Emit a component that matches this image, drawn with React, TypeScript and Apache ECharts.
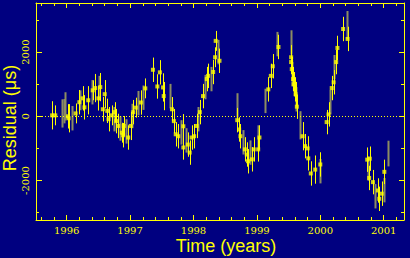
import React, { useEffect, useRef } from "react";
import * as echarts from "echarts";

// Bright (yellow) timing residuals: epoch (yr), residual (us), error (us)
const yellowYears = [1995.77, 1995.82, 1996.02, 1996.03, 1996.14, 1996.2, 1996.25, 1996.28, 1996.34, 1996.41, 1996.45, 1996.5, 1996.53, 1996.57, 1996.6, 1996.64, 1996.66, 1996.71, 1996.76, 1996.78, 1996.81, 1996.87, 1996.89, 1996.9, 1996.97, 1997.01, 1997.05, 1997.09, 1997.17, 1997.24, 1997.36, 1997.43, 1997.47, 1997.52, 1997.53, 1997.66, 1997.69, 1997.72, 1997.76, 1997.84, 1997.84, 1997.91, 1997.94, 1997.97, 1998.01, 1998.05, 1998.1, 1998.15, 1998.21, 1998.23, 1998.31, 1998.34, 1998.35, 1998.41, 1998.69, 1998.72, 1998.74, 1998.81, 1998.84, 1998.86, 1998.92, 1998.95, 1999.02, 1999.04, 1999.18, 1999.22, 1999.25, 1999.34, 1999.54, 1999.54, 1999.55, 1999.57, 1999.58, 1999.6, 1999.61, 1999.63, 1999.72, 1999.76, 1999.8, 1999.81, 1999.85, 1999.92, 2000.0, 2000.1, 2000.13, 2000.18, 2000.21, 2000.25, 2000.27, 2000.36, 2000.43, 2000.74, 2000.78, 2000.77, 2000.83, 2000.91, 2000.93, 2000.97, 2001.01];
const yellowRes = [30, 30, 0, -60, 90, 440, 560, 280, 500, 810, 880, 560, 910, 220, 690, 170, -90, 30, 130, -150, -300, -510, -590, -300, -660, -300, 130, 270, 430, 870, 1450, 930, 1370, 900, 630, 220, -150, -560, -620, -310, -970, -880, -1130, -660, -620, -300, 130, 630, 1160, 1260, 1380, 1840, 2350, 1730, -120, -410, -620, -1030, -1190, -1400, -1340, -1030, -1030, -660, 840, 1260, 1560, 2160, 1840, 1690, 1470, 1160, 1000, 840, 690, 300, -620, -930, -1000, -1310, -1780, -1660, -1500, -180, 60, 880, 1060, 1690, 2130, 2720, 2410, -1350, -1320, -1920, -2050, -2310, -2570, -2410, -1730];
const yellowErr = [440, 310, 380, 440, 310, 380, 380, 380, 440, 310, 440, 380, 440, 380, 440, 380, 380, 310, 310, 380, 380, 310, 380, 310, 380, 440, 380, 310, 380, 310, 380, 380, 380, 440, 440, 380, 380, 380, 380, 380, 380, 380, 380, 380, 380, 380, 380, 380, 380, 380, 380, 310, 310, 380, 380, 380, 380, 380, 380, 380, 380, 380, 380, 380, 380, 380, 380, 380, 380, 380, 380, 380, 380, 380, 380, 380, 440, 380, 380, 380, 380, 440, 380, 380, 380, 380, 380, 380, 380, 380, 380, 380, 380, 380, 380, 380, 380, 380, 380];

// Dim (grey) residuals
const greyYears = [1995.93, 1995.96, 1995.98, 1996.08, 1996.21, 1996.4, 1996.51, 1996.74, 1996.84, 1996.94, 1997.03, 1997.13, 1997.21, 1997.63, 1997.8, 1997.88, 1998.07, 1998.18, 1998.28, 1998.39, 1998.69, 1998.78, 1998.89, 1999.01, 1999.13, 1999.31, 1999.53, 1999.56, 1999.62, 1999.68, 2000.0, 2000.15, 2000.22, 2000.42, 2000.76, 2000.86, 2001.0, 2001.06];
const greyRes = [90, 160, 310, -60, 500, 750, 880, -90, -380, -470, 10, 410, 580, 630, -500, -750, -90, 910, 1160, 2000, 340, -810, -1130, -660, 480, 2250, 2300, 1310, 530, -280, -1710, 440, 1530, 2840, -1630, -2490, -2300, -1160];
const greyErr = [440, 380, 440, 380, 310, 380, 380, 380, 380, 380, 380, 380, 380, 380, 380, 380, 380, 380, 380, 380, 380, 380, 380, 380, 380, 380, 380, 380, 380, 440, 380, 380, 380, 440, 380, 380, 380, 400];

const xMajor = [1996, 1997, 1998, 1999, 2000, 2001];
const yMajor = [-2000, 0, 2000];
const yMinor = [-3000, -1000, 1000, 3000];

const X_MIN = 1995.516;
const X_MAX = 2001.32;
const Y_MIN = -3230;
const Y_MAX = 3530;

const YELLOW = "#ffff00";
const GREY = "#8c8c62";
const BG = "#000080";
const LABEL_FONT = "DejaVu Serif";

const xMinor: number[] = [];
for (let k = 1; k * 0.2 + 1995.4 < X_MAX; k++) {
  const v = Math.round((1995.4 + k * 0.2) * 10) / 10;
  if (v > X_MIN && Math.abs(v - Math.round(v)) > 0.01) xMinor.push(v);
}

function errRender(color: string, width: number) {
  return (params: any, api: any) => {
    const x = api.value(0);
    const y = api.value(1);
    const e = api.value(2);
    const a = api.coord([x, y + e]);
    const b = api.coord([x, y - e]);
    return {
      type: "line",
      shape: { x1: Math.round(a[0]) + 0.5, y1: a[1], x2: Math.round(b[0]) + 0.5, y2: b[1] },
      style: { stroke: color, lineWidth: width },
    };
  };
}

function xAxisDef(pos: "top" | "bottom", ticks: number[], len: number, labels: boolean, line: boolean) {
  return {
    type: "value",
    position: pos,
    min: X_MIN,
    max: X_MAX,
    gridIndex: 0,
    axisLine: { show: line, onZero: false, lineStyle: { color: YELLOW, width: 1 } },
    axisTick: { show: true, inside: true, length: len, customValues: ticks, lineStyle: { color: YELLOW, width: 1 } },
    axisLabel: labels
      ? { show: true, customValues: ticks, color: YELLOW, fontFamily: LABEL_FONT, fontSize: 10, margin: 5, formatter: (v: number) => String(v) }
      : { show: false },
    splitLine: { show: false },
  };
}

function yAxisDef(pos: "left" | "right", ticks: number[], len: number, labels: boolean, line: boolean) {
  return {
    type: "value",
    position: pos,
    min: Y_MIN,
    max: Y_MAX,
    gridIndex: 0,
    axisLine: { show: line, onZero: false, lineStyle: { color: YELLOW, width: 1 } },
    axisTick: { show: true, inside: true, length: len, customValues: ticks, lineStyle: { color: YELLOW, width: 1 } },
    axisLabel: labels
      ? { show: true, customValues: ticks, rotate: 90, color: YELLOW, fontFamily: LABEL_FONT, fontSize: 10, margin: 6, formatter: (v: number) => String(v) }
      : { show: false },
    splitLine: { show: false },
  };
}

export default function App() {
  const ref = useRef<HTMLDivElement>(null);
  useEffect(() => {
    document.body.style.margin = "0";
    const chart = echarts.init(ref.current!, null, { renderer: "svg" });
    const yellowData = yellowYears.map((t, i) => [t, yellowRes[i], yellowErr[i]]);
    const greyData = greyYears.map((t, i) => [t, greyRes[i], greyErr[i]]);
    chart.setOption({
      animation: false,
      backgroundColor: BG,
      grid: { left: 36, right: 6, top: 3, bottom: 38, containLabel: false },
      xAxis: [
        xAxisDef("bottom", xMajor, 5, true, true),
        xAxisDef("bottom", xMinor, 3, false, false),
        xAxisDef("top", xMajor, 5, false, true),
        xAxisDef("top", xMinor, 3, false, false),
      ],
      yAxis: [
        yAxisDef("left", yMajor, 6, true, true),
        yAxisDef("left", yMinor, 3, false, false),
        yAxisDef("right", yMajor, 5, false, true),
        yAxisDef("right", yMinor, 3, false, false),
      ],
      graphic: [
        {
          type: "text",
          x: 226,
          y: 246,
          style: { text: "Time (years)", fill: YELLOW, font: "18px 'Liberation Sans'", textAlign: "center", textVerticalAlign: "middle" },
        },
        {
          type: "text",
          x: 10,
          y: 118,
          rotation: Math.PI / 2,
          style: { text: "Residual (\u03bcs)", fill: YELLOW, font: "18px 'Liberation Sans'", textAlign: "center", textVerticalAlign: "middle" },
        },
      ],
      series: [
        {
          type: "custom",
          name: "grey errors",
          xAxisIndex: 0,
          yAxisIndex: 0,
          renderItem: errRender(GREY, 2),
          data: greyData,
          encode: { x: 0, y: 1 },
          silent: true,
          z: 2,
        },
        {
          type: "custom",
          name: "yellow errors",
          xAxisIndex: 0,
          yAxisIndex: 0,
          renderItem: errRender(YELLOW, 1),
          data: yellowData,
          encode: { x: 0, y: 1 },
          silent: true,
          z: 3,
        },
        {
          type: "scatter",
          name: "yellow points",
          xAxisIndex: 0,
          yAxisIndex: 0,
          data: yellowData.map((d) => [d[0], d[1]]),
          symbol: "rect",
          symbolSize: 4,
          itemStyle: { color: YELLOW },
          silent: true,
          z: 4,
          markLine: {
            silent: true,
            symbol: "none",
            label: { show: false },
            lineStyle: { color: YELLOW, type: [1, 2], width: 1 },
            data: [{ yAxis: 0 }],
          },
        },
      ],
    });
    return () => chart.dispose();
  }, []);
  return <div ref={ref} style={{ width: 410, height: 258 }} />;
}
